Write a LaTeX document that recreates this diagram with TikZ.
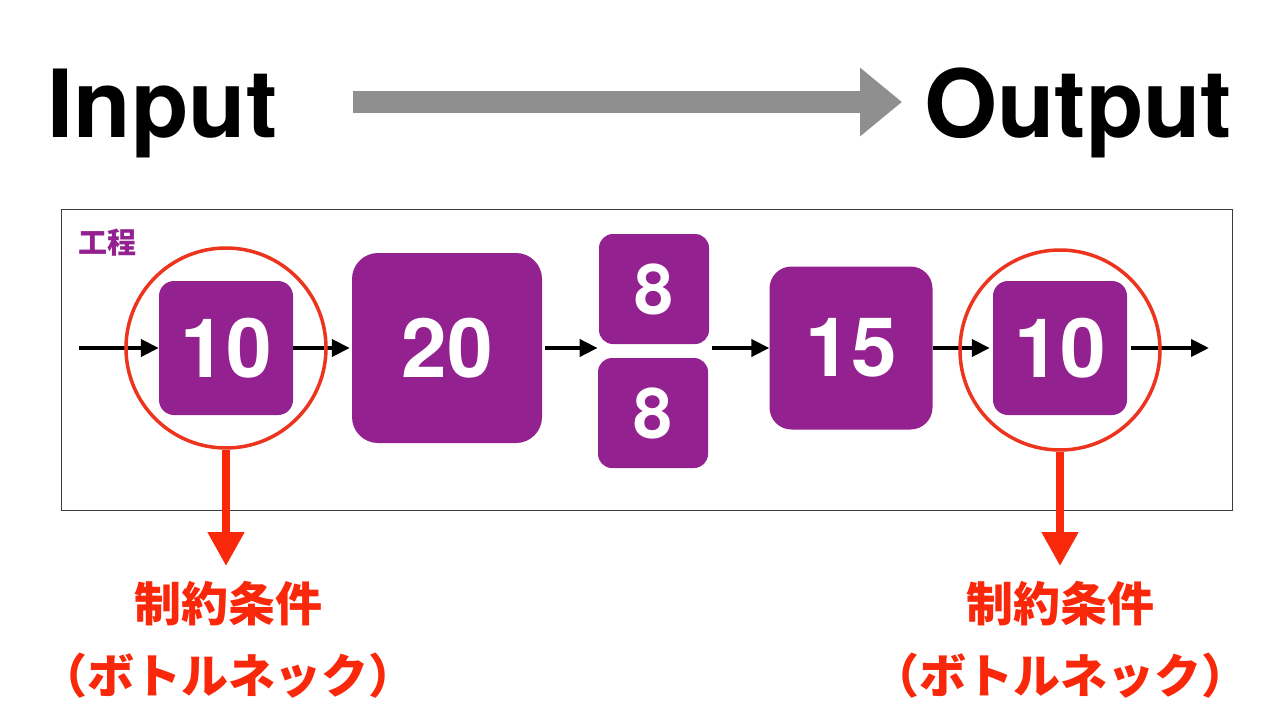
\documentclass[tikz,border=0pt]{standalone}
\usepackage{fontspec}
\setmainfont{TeX Gyre Heros}
\newfontfamily\cjk{Noto Sans CJK JP}
\usetikzlibrary{arrows.meta,fit}
\definecolor{procpurple}{RGB}{147,33,143}
\definecolor{ringred}{RGB}{236,52,30}
\definecolor{labred}{RGB}{250,40,10}
\definecolor{arrowgray}{RGB}{143,143,143}
\definecolor{framegray}{RGB}{60,60,60}
\tikzset{
  pbox/.style={fill=procpurple, text=white, inner sep=0pt,
    font=\bfseries\fontsize{82}{82}\selectfont},
  flow/.style={line width=4pt, -{Triangle[length=18pt,width=17pt]}},
  ring/.style={circle, draw=ringred, line width=3.5pt, minimum size=200pt, inner sep=0pt},
  redarrow/.style={draw=labred, line width=8pt, -{Triangle[length=34pt,width=35pt]}},
  redlabel/.style={text=labred, align=center, inner sep=0pt,
    font=\cjk\bfseries\fontsize{47}{72}\selectfont},
  bigtitle/.style={inner sep=0pt, font=\bfseries\fontsize{94}{94}\selectfont},
  grayarrow/.style={draw=arrowgray, line width=22pt, -{Triangle[length=42pt,width=66pt]}}
}
\begin{document}
\begin{tikzpicture}[x=1pt,y=-1pt]
\useasboundingbox[fill=white] (0,0) rectangle (1280,720);
% titles
\node[bigtitle, anchor=base west] (in) at (47,137) {Input};
\node[bigtitle, anchor=base west] (out) at (924,137) {Output};
\draw[grayarrow] ([xshift=75pt,yshift=35pt]in.base east) -- ([xshift=-22pt,yshift=35pt]out.base west);
% frame
\node[draw=framegray, line width=1.2pt, minimum width=1171pt, minimum height=301pt, inner sep=0pt, anchor=north west] (frame) at (61,209) {};
\node[text=procpurple, inner sep=0pt, font=\cjk\bfseries\fontsize{29}{29}\selectfont] (lbl) at (107,243) {工程};
% process boxes
\node[pbox, minimum size=134pt, rounded corners=15pt] (b10) at (226,348) {10};
\node[pbox, minimum size=190pt, rounded corners=26pt] (b20) at (447,348) {20};
\node[pbox, minimum size=110pt, rounded corners=14pt, font=\bfseries\fontsize{70}{70}\selectfont] (e1) at (654,289) {8};
\node[pbox, minimum size=110pt, rounded corners=14pt, font=\bfseries\fontsize{70}{70}\selectfont] (e2) at (653,413) {8};
\node[fit=(e1)(e2), inner sep=0pt] (grp) {};
\node[pbox, minimum size=163pt, rounded corners=22pt] (b15) at (851,348) {15};
\node[pbox, minimum size=134pt, rounded corners=15pt] (b10b) at (1060,348) {10};
% flow arrows
\coordinate (src) at (79,348);
\coordinate (snk) at (1209,348);
\draw[flow] (src) -- (b10.west);
\draw[flow, shorten >=2pt] (b10.east) -- (b20.west);
\draw[flow, shorten <=3pt] (b20.east) -- (grp.west |- b20.east);
\draw[flow, shorten <=3pt] (grp.east |- b15.west) -- (b15.west);
\draw[flow, shorten >=3pt] (b15.east) -- (b10b.west);
\draw[flow, shorten <=4pt] (b10b.east) -- (snk);
% bottleneck rings
\node[ring] (c1) at (226,348) {};
\node[ring] (c2) at (1060,350) {};
\coordinate (t1) at (226,566);
\coordinate (t2) at (1060,566);
\draw[redarrow] (c1.south) -- (t1);
\draw[redarrow] (c2.south) -- (t2);
\node[redlabel] (l1) at (228,640) {制約条件\\（ボトルネック）};
\node[redlabel] (l2) at (1060,640) {制約条件\\（ボトルネック）};
\end{tikzpicture}
\end{document}
